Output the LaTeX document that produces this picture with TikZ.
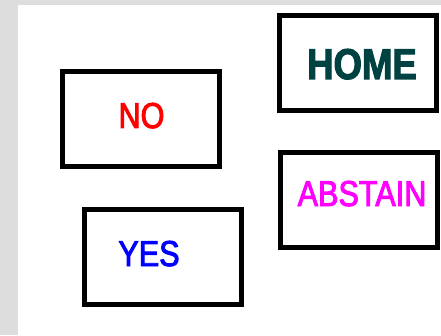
\documentclass[tikz,border=0pt]{standalone}
\usepackage{fontspec}
\setmainfont{Liberation Sans}
\newfontfamily\votefont[FakeStretch=0.85, FakeBold=2.5]{Liberation Sans}
\usetikzlibrary{positioning}
\definecolor{hometeal}{RGB}{0,66,66}
\definecolor{panelgray}{RGB}{221,221,221}
\definecolor{votemagenta}{RGB}{255,0,255}

\begin{document}
\begin{tikzpicture}[x=1pt, y=1pt,
    votebox/.style={draw=black, line width=5.5pt, minimum width=157pt,
                    minimum height=95pt, inner sep=0pt},
    votelabel/.style={anchor=base, inner sep=0pt, font=\votefont\fontsize{36}{36}\selectfont}]
  % backdrop
  \fill[panelgray] (0,0) rectangle (441,335);
  \fill[white] (18,0) rectangle (441,330);
  \useasboundingbox (0,0) rectangle (441,335);

  % boxes
  \node[votebox] (nobox)      at (141,216) {};
  \node[votebox] (homebox)    at (358,272) {};
  \node[votebox] (abstainbox) at (359,135) {};
  \node[votebox] (yesbox)     at (163,78)  {};

  % labels
  \node[votelabel, text=red] (nolabel) at (141.5,207) {NO};
  \node[votelabel, text=hometeal, font=\votefont\bfseries\fontsize{43}{43}\selectfont]
        (homelabel) at (362,256) {HOME};
  \node[votelabel, text=votemagenta] (abstainlabel) at (362,129) {ABSTAIN};
  \node[votelabel, text=blue] (yeslabel) at (149,69) {YES};
\end{tikzpicture}
\end{document}
